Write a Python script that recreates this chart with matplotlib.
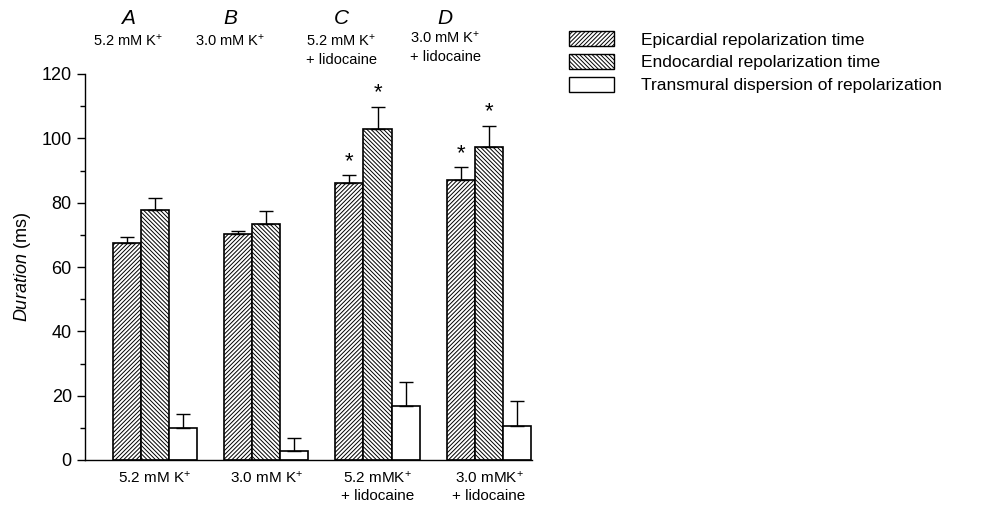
import matplotlib
matplotlib.use("Agg")
import matplotlib.pyplot as plt
import numpy as np
from matplotlib.patches import Patch
from matplotlib.ticker import MultipleLocator

plt.rcParams['font.family'] = ['Liberation Sans', 'DejaVu Sans']
plt.rcParams['mathtext.fontset'] = 'custom'
plt.rcParams['mathtext.rm'] = 'Liberation Sans'
plt.rcParams['mathtext.it'] = 'Liberation Sans:italic'
plt.rcParams['hatch.linewidth'] = 0.7

groups = ["5.2 mM K$^{+}$", "3.0 mM K$^{+}$", "5.2 mMK$^{+}$\n+ lidocaine", "3.0 mMK$^{+}$\n+ lidocaine"]
series = ["Epicardial repolarization time", "Endocardial repolarization time",
          "Transmural dispersion of repolarization"]
epi = [67.5, 70.2, 86.0, 87.0]
epi_err = [1.8, 1.0, 2.6, 4.0]
endo = [77.7, 73.4, 102.8, 97.4]
endo_err = [3.7, 4.0, 7.0, 6.5]
tdr = [10.0, 2.9, 16.8, 10.7]
tdr_err = [4.2, 4.0, 7.4, 7.6]
sig_epi = [False, False, True, True]
sig_endo = [False, False, True, True]
top_letters = ["A", "B", "C", "D"]
top_texts = ["5.2 mM K$^{+}$", "3.0 mM K$^{+}$", "5.2 mM K$^{+}$\n+ lidocaine", "3.0 mM K$^{+}$\n+ lidocaine"]

fig = plt.figure(figsize=(9.92, 5.05), dpi=100)
ax = fig.add_axes([85/992, 45/505, (532-85)/992, (460-74)/505])

x = np.arange(len(groups))
w = 0.252
hatches = ['////////', '\\\\\\\\\\\\\\\\', '']
data = [(epi, epi_err), (endo, endo_err), (tdr, tdr_err)]
for k, (vals, errs) in enumerate(data):
    pos = x + (k - 1) * w
    ax.bar(pos, vals, width=w, facecolor='white', edgecolor='black',
           hatch=hatches[k], linewidth=1.2, zorder=2)
    ax.errorbar(pos, vals, yerr=[np.zeros(len(vals)), errs], fmt='none',
                ecolor='black', elinewidth=1, capsize=5, capthick=1, zorder=3)

for i in range(len(groups)):
    if sig_epi[i]:
        ax.text(x[i] - w, epi[i] + epi_err[i] + 1.0, "*", ha='center', va='bottom', fontsize=16)
    if sig_endo[i]:
        ax.text(x[i], endo[i] + endo_err[i] + 1.0, "*", ha='center', va='bottom', fontsize=16)

ax.set_xlim(-0.625, 3.386)
ax.set_ylim(0, 120)
ax.yaxis.set_major_locator(MultipleLocator(20))
ax.yaxis.set_minor_locator(MultipleLocator(10))
ax.tick_params(axis='y', which='major', direction='out', length=6, width=1, labelsize=13)
ax.tick_params(axis='y', which='minor', direction='out', length=3.5, width=1)
ax.set_xticks(x)
ax.set_xticklabels(groups, fontsize=11, linespacing=1.3)
ax.tick_params(axis='x', length=0, pad=7)
for s in ['top', 'right']:
    ax.spines[s].set_visible(False)
ax.spines['left'].set_linewidth(1)
ax.spines['bottom'].set_linewidth(1)
ax.set_ylabel("$\\it{Duration}$ (ms)", fontsize=13, labelpad=6)

# top condition labels
top_px = [128, 230, 341, 445]
top_y = [19, 19, 19, 19]
sub_y = [42, 42, 42, 39]
for i in range(4):
    fig.text(top_px[i]/992, 1 - top_y[i]/505, top_letters[i], ha='center', va='center',
             fontsize=15, style='italic')
    fig.text(top_px[i]/992, 1 - (sub_y[i] - 9)/505, top_texts[i], ha='center', va='top',
             fontsize=10.5, linespacing=1.4)

handles = [Patch(facecolor='white', edgecolor='black', hatch=h, linewidth=1) for h in hatches]
fig.legend(handles, series, loc='upper left', bbox_to_anchor=(562/992, 1 - 24/505),
           frameon=False, fontsize=12.5, handlelength=2.6, handleheight=1.0,
           labelspacing=0.35, handletextpad=1.55, borderaxespad=0)

fig.savefig("out.png", dpi=100)
